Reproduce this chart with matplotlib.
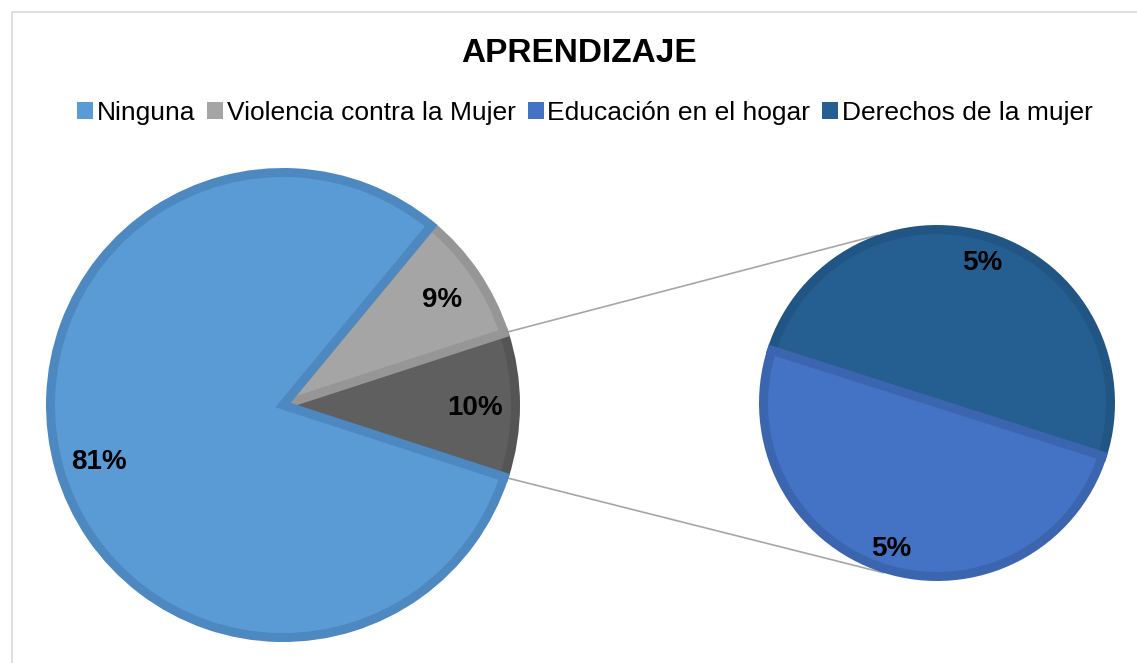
import numpy as np
import matplotlib
matplotlib.use('Agg')
import matplotlib.pyplot as plt
from matplotlib.patches import Patch, Rectangle

plt.rcParams['font.family'] = ['Liberation Sans', 'DejaVu Sans']

#Categories and shares (%)
categories = ['Ninguna', 'Violencia contra la Mujer', 'Educación en el hogar', 'Derechos de la mujer']
shares = [81, 9, 5, 5]

fills = ['#5B9BD5', '#A5A5A5', '#4472C4', '#255E91']
edges = ['#4E88C0', '#969696', '#3C65B0', '#215584']
other_fill, other_edge = '#5F5F5F', '#555555'

#main pie: other (rest), Violencia, Ninguna  |  secondary pie: Derechos, Educacion
other = shares[2] + shares[3]
main_vals = [other, shares[1], shares[0]]
sec_vals = [shares[3], shares[2]]

W, H = 1137, 663
fig = plt.figure(figsize=(W/100, H/100), dpi=100)
ax = fig.add_axes([0, 0, 1, 1])

lw_px = 9
lw = lw_px*72/100

#main pie
c1 = (283, H-405)
r1 = 237 - lw_px/2
start1 = -other/100*360/2
w1, _, t1 = ax.pie(main_vals, center=c1, radius=r1, startangle=start1,
                   colors=[other_fill, fills[1], fills[0]],
                   autopct='%1.0f%%', pctdistance=192/r1,
                   wedgeprops=dict(linewidth=lw, joinstyle='miter'),
                   textprops=dict(fontsize=20, fontweight='bold', color='black'),
                   frame=True)
for w, ec in zip(w1, [other_edge, edges[1], edges[0]]):
    w.set_edgecolor(ec)

#secondary pie
c2 = (937, H-403)
r2 = 178 - lw_px/2
start2 = -17.7
w2, _, t2 = ax.pie(sec_vals, center=c2, radius=r2, startangle=start2,
                   colors=[fills[3], fills[2]],
                   autopct=lambda p: '%1.0f%%' % (p*other/100), pctdistance=150/r2,
                   wedgeprops=dict(linewidth=lw, joinstyle='miter'),
                   textprops=dict(fontsize=20, fontweight='bold', color='black'),
                   frame=True)
for w, ec in zip(w2, [edges[3], edges[2]]):
    w.set_edgecolor(ec)

#nudge labels down a bit
for t in list(t1) + list(t2):
    x, y = t.get_position()
    t.set_position((x, y - 3))

ax.set_xlim(0, W)
ax.set_ylim(0, H)
ax.set_aspect('equal')
ax.axis('off')

#connector lines between the pies
half = other/100*360/2
for a1, a2 in [(half, 109.5), (-half, -107.5)]:
    p = np.array(c1) + 237*np.array([np.cos(np.radians(a1)), np.sin(np.radians(a1))])
    q = np.array(c2) + 178*np.array([np.cos(np.radians(a2)), np.sin(np.radians(a2))])
    ax.plot([p[0], q[0]], [p[1], q[1]], color='#A6A6A6', lw=1.2, zorder=0)

#chart border
fig.patches.append(Rectangle((12/W, -0.1), 1.2, 1-12/H+0.1, transform=fig.transFigure,
                             fill=False, edgecolor='#D9D9D9', lw=1.2))

fig.text(579/W, 1-54/H, 'APRENDIZAJE', ha='center', va='center',
         fontsize=24, fontweight='bold')

handles = [Patch(facecolor=c, edgecolor='none') for c in fills]
fig.legend(handles, categories, loc='center', bbox_to_anchor=(585/W, 1-113/H), ncol=4,
           frameon=False, fontsize=19, handlelength=0.6, handleheight=0.6,
           handletextpad=0.15, columnspacing=0.45)

plt.savefig('out.png', dpi=100)
